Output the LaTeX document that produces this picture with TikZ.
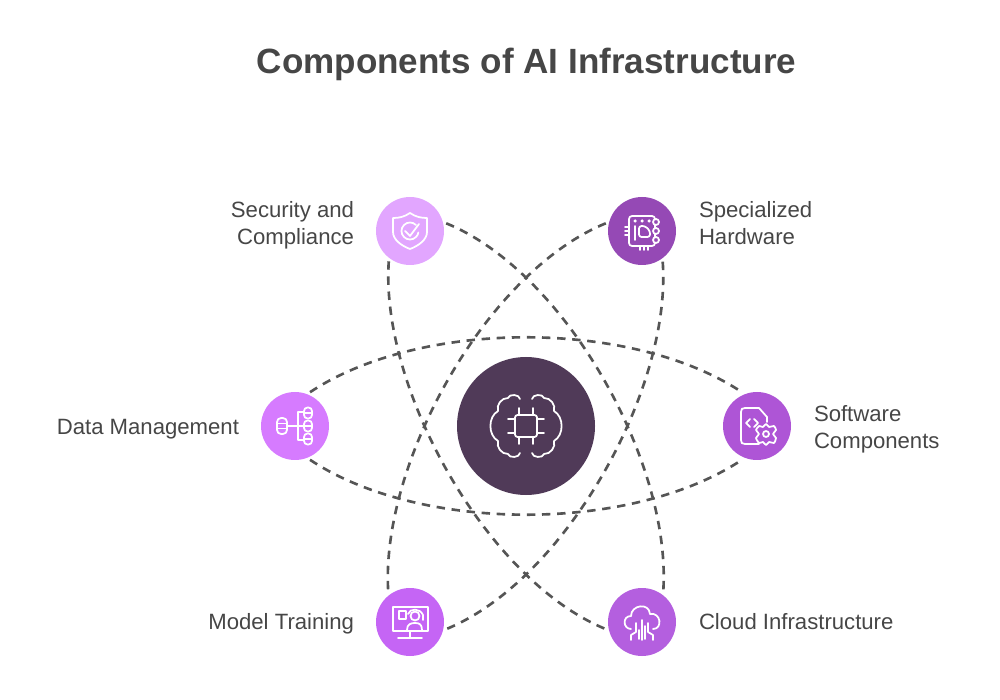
\documentclass[tikz,border=0pt]{standalone}
\usepackage{fontspec}
\setmainfont{Liberation Sans}
\usetikzlibrary{positioning}
\definecolor{TextGray}{HTML}{464646}
\definecolor{OrbitGray}{HTML}{555555}
\definecolor{CoreDark}{HTML}{503A58}
\definecolor{SecurityPink}{HTML}{E2A6FF}
\definecolor{HardwarePurple}{HTML}{9549B5}
\definecolor{DataPink}{HTML}{D67BFF}
\definecolor{SoftwarePurple}{HTML}{AE55D6}
\definecolor{ModelPink}{HTML}{C565F5}
\definecolor{CloudPurple}{HTML}{B45FDF}
\tikzset{
    partnode/.style={circle, minimum size=13.6mm, inner sep=0pt, outer sep=0.6mm},
    corenode/.style={circle, fill=CoreDark, minimum size=27.6mm, inner sep=0pt},
    partlabel/.style={inner sep=0pt, outer sep=0pt, text=TextGray, font=\fontsize{12.6}{15.4}\selectfont},
    orbit/.style={draw=OrbitGray, line width=1.5pt, dash pattern=on 4.8pt off 3.8pt},
    iconline/.style={draw=white, line width=1pt, line cap=round, line join=round},
    % icons, drawn around (0,0)
    shieldicon/.pic={
        \draw[iconline] (0,-18) .. controls (-6,-14) and (-11,-13) .. (-17,-13) -- (-17,1)
            .. controls (-17,9) and (-8,15) .. (0,18) .. controls (8,15) and (17,9) .. (17,1)
            -- (17,-13) .. controls (11,-13) and (6,-14) .. (0,-18) -- cycle;
        \draw[iconline] (6,-6) arc[start angle=-45, end angle=-350, radius=8.5];
        \draw[iconline] (-5,0) -- (0,5) -- (9,-7);
    },
    chipicon/.pic={
        \draw[iconline, rounded corners=0.6mm] (-13,-15) rectangle (13,15);
        \foreach \dotx in {-7,0,7} \fill[white] (\dotx,-10) circle[radius=0.35mm];
        \draw[iconline] (-7,-5) -- (-7,9);
        \draw[iconline, rounded corners=0.5mm] (-3,-5) -- (3,-5) -- (8,0) -- (8,6) -- (-3,6) -- cycle;
        \draw[iconline, fill=HardwarePurple] (14,-9) circle[radius=0.6mm] (14,0) circle[radius=0.6mm] (14,9) circle[radius=0.6mm];
        \foreach \piny in {-4,0,4} \draw[iconline] (-17,\piny) -- (-13,\piny);
        \foreach \pinx in {-2,2,6} \draw[iconline] (\pinx,15) -- (\pinx,19);
    },
    dbicon/.pic={
        \draw[iconline, rounded corners=0.8mm] (-18,-8) rectangle (-8,8);
        \draw[iconline] (-18,-2.5) -- (-8,-2.5) (-18,2.5) -- (-8,2.5);
        \draw[iconline] (-8,0) -- (8,0);
        \draw[iconline] (8,-14) -- (3,-14) -- (3,14) -- (8,14);
        \foreach \cyly in {-13,0,13} {
            \draw[iconline, rounded corners=0.7mm] (9,\cyly-5.5) rectangle (17,\cyly+5.5);
            \draw[iconline] (9,\cyly) -- (17,\cyly);
        }
    },
    softicon/.pic={
        \draw[iconline] (2,18) -- (-12,18) .. controls (-15,18) and (-16,17) .. (-16,14) -- (-16,-14)
            .. controls (-16,-17) and (-15,-18) .. (-12,-18) -- (2,-18) -- (10,-9) -- (10,-4);
        \draw[iconline] (-7,-7) -- (-11,-3) -- (-7,1) (-3,-7) -- (1,-3) -- (-3,1);
        \draw[iconline, fill=SoftwarePurple] plot[smooth cycle, tension=0.35] coordinates {
            (9,-2) (12,1) (17,0) (19,4) (16,8) (19,12) (17,17) (12,16) (9,19)
            (6,16) (2,17) (-1,12) (2,8) (-1,4) (2,0) (6,1)};
        \draw[iconline] (9,8) circle[radius=0.6mm];
    },
    screenicon/.pic={
        \draw[iconline] (-17,-15) rectangle (18,9);
        \draw[iconline] (-11,-11) rectangle (-4,-3);
        \draw[iconline] (-12,16) -- (12,16) (0,9) -- (0,16);
        \draw[iconline] (5,-6) circle[radius=0.9mm];
        \draw[iconline] (-3,8) .. controls (-3,2) and (1,1) .. (5,1) .. controls (9,1) and (12,2) .. (12,8);
        \draw[iconline] (-2,-8) .. controls (0,-14) and (10,-14) .. (13,-7) -- (13,-2);
    },
    cloudicon/.pic={
        \draw[iconline] (-11,7) .. controls (-19,7) and (-20,-6) .. (-11,-6)
            .. controls (-11,-17) and (7,-20) .. (8,-8)
            .. controls (19,-10) and (21,7) .. (11,7);
        \draw[iconline] (-6,1) -- (-6,10) -- (-11,13) -- (-11,18);
        \draw[iconline] (0,-2) -- (0,18) (-3,8) -- (-3,17) (6,1) -- (6,10) -- (11,13) -- (11,18) (3,4) -- (3,17);
    },
    brainicon/.pic={
        \foreach \flipx in {1,-1} {
            \begin{scope}[xscale=\flipx]
                \draw[iconline] (-6,-27) to[bend right=80] (-18,-28) to[bend right=55] (-28,-15)
                    to[bend right=60] (-28,15) to[bend right=55] (-18,28) to[bend right=80] (-6,27);
                \draw[iconline] (-7,-18) -- (-7,-11) (-7,18) -- (-7,11);
                \draw[iconline] (-18,-7) -- (-11,-7) (-18,7) -- (-11,7);
            \end{scope}
        }
        \draw[iconline, rounded corners=0.5mm] (-11,-11) rectangle (11,11);
    }
}
\begin{document}
\begin{tikzpicture}[x=0.2mm, y=-0.2mm]
    \useasboundingbox (0,0) rectangle (1000,700);
    % --- title ---
    \node[inner sep=0pt, text=TextGray, font=\fontsize{19.95}{24}\selectfont\bfseries] (title) at (526.5,64) {Components of AI Infrastructure};

    % --- circles ---
    \node[corenode] (core) at (526,426) {};
    \node[partnode, fill=SecurityPink] (security) at (410,231) {};
    \node[partnode, fill=HardwarePurple] (hardware) at (642,231) {};
    \node[partnode, fill=DataPink] (data) at (295,426) {};
    \node[partnode, fill=SoftwarePurple] (software) at (757,426) {};
    \node[partnode, fill=ModelPink] (model) at (410,622) {};
    \node[partnode, fill=CloudPurple] (cloud) at (642,622) {};

    % --- labels ---
    \node[partlabel, align=right, left=3.8mm of security, yshift=1.2mm] (securitytext) {Security and\\Compliance};
    \node[partlabel, align=left, right=4mm of hardware, yshift=1.6mm] (hardwaretext) {Specialized\\Hardware};
    \node[partlabel, left=3.8mm of data, yshift=-0.6mm] (datatext) {Data Management};
    \node[partlabel, align=left, right=4mm of software, yshift=-0.6mm] (softwaretext) {Software\\Components};
    \node[partlabel, left=3.8mm of model, yshift=-0.4mm] (modeltext) {Model Training};
    \node[partlabel, right=4mm of cloud] (cloudtext) {Cloud Infrastructure};

    % --- icons ---
    \pic at (core) {brainicon};
    \pic at (security) {shieldicon};
    \pic at (hardware) {chipicon};
    \pic at (data) {dbicon};
    \pic at (software) {softicon};
    \pic at (model) {screenicon};
    \pic at (cloud) {cloudicon};

    % --- dashed orbits ---
    \draw[orbit] (data.66) .. controls (420,319) and (632,319) .. (software.114);
    \draw[orbit] (data.-66) .. controls (420,533) and (632,533) .. (software.-114);
    \draw[orbit] (security.12) .. controls (566,272) and (672,464) .. (cloud.55);
    \draw[orbit] (security.235) .. controls (380,388) and (486,580) .. (cloud.191);
    \draw[orbit] (hardware.168) .. controls (486,272) and (380,464) .. (model.126);
    \draw[orbit] (hardware.-56) .. controls (672,388) and (566,580) .. (model.-11);
\end{tikzpicture}
\end{document}
